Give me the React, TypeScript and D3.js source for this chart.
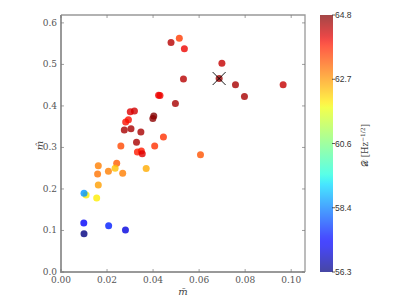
import React, { useEffect, useRef } from 'react';
import * as d3 from 'd3';

const mBar = [0.0478, 0.0514, 0.0536, 0.0532, 0.0424, 0.0430, 0.0497, 0.0301, 0.0319, 0.0293, 0.0281,
  0.0403, 0.0399, 0.0275, 0.0304, 0.0347, 0.0445, 0.0328, 0.0699, 0.0687, 0.0758, 0.0797, 0.0965,
  0.0260, 0.0407, 0.0332, 0.0349, 0.0353, 0.0162, 0.0242, 0.0159, 0.0206, 0.0235, 0.0268, 0.0370,
  0.0162, 0.0109, 0.0100, 0.0155, 0.0099, 0.0100, 0.0207, 0.0280, 0.0606];
const mHat = [0.5525, 0.563, 0.538, 0.465, 0.426, 0.425, 0.406, 0.386, 0.388, 0.367, 0.361,
  0.376, 0.370, 0.342, 0.345, 0.337, 0.325, 0.3125, 0.503, 0.466, 0.451, 0.423, 0.451,
  0.3036, 0.3036, 0.289, 0.2916, 0.285, 0.256, 0.262, 0.236, 0.2426, 0.250, 0.238, 0.249,
  0.2096, 0.1855, 0.1896, 0.178, 0.118, 0.0924, 0.1116, 0.101, 0.2827];
const dVal = [64.4, 63.5, 64.0, 64.4, 64.0, 64.0, 64.5, 64.1, 64.2, 63.9, 63.9,
  64.8, 64.7, 64.5, 64.5, 64.5, 63.6, 64.5, 64.3, 64.6, 64.5, 64.5, 64.3,
  63.4, 63.6, 63.8, 63.8, 64.1, 62.9, 63.2, 63.0, 62.9, 62.3, 62.9, 62.5,
  62.6, 61.9, 58.6, 61.9, 57.2, 56.3, 57.6, 57.0, 63.3];
const markedIndex = 19;

const xTicks = [0, 0.02, 0.04, 0.06, 0.08, 0.10];
const yTicks = [0, 0.1, 0.2, 0.3, 0.4, 0.5, 0.6];
const cTickLabels = ['56.3', '58.4', '60.6', '62.7', '64.8'];

// matplotlib jet
const jr = d3.scaleLinear().domain([0, 0.35, 0.66, 0.89, 1]).range([0, 0, 1, 1, 0.5]).clamp(true);
const jg = d3.scaleLinear().domain([0, 0.125, 0.375, 0.64, 0.91, 1]).range([0, 0, 1, 1, 0, 0]).clamp(true);
const jb = d3.scaleLinear().domain([0, 0.11, 0.34, 0.65, 1]).range([0.5, 1, 1, 0, 0]).clamp(true);
const jet = (t: number) => d3.rgb(jr(t) * 255, jg(t) * 255, jb(t) * 255).toString();

export default function App() {
  const ref = useRef<SVGSVGElement>(null);

  useEffect(() => {
    const svg = d3.select(ref.current);
    svg.selectAll('*').remove();

    const left = 61, right = 305, top = 15, bottom = 272;
    const x = d3.scaleLinear().domain([0, 0.106]).range([left, right]);
    const y = d3.scaleLinear().domain([0, 0.619]).range([bottom, top]);
    const dMin = 56.3, dMax = 64.8;
    const norm = d3.scaleLinear().domain([dMin, dMax]).range([0, 1]);
    const serif = '"DejaVu Serif", "Liberation Serif", serif';
    const sans = '"Liberation Sans", "DejaVu Sans", sans-serif';

    // points
    const g = svg.append('g');
    d3.range(mBar.length).forEach(i => {
      g.append('circle')
        .attr('cx', x(mBar[i]))
        .attr('cy', y(mHat[i]))
        .attr('r', 3.5)
        .attr('fill', jet(norm(dVal[i])))
        .attr('fill-opacity', 0.8);
    });

    // cross on the marked point
    const cx = x(mBar[markedIndex]), cy = y(mHat[markedIndex]);
    const s = 6.5;
    g.append('path')
      .attr('d', `M${cx - s},${cy - s}L${cx + s},${cy + s}M${cx - s},${cy + s}L${cx + s},${cy - s}`)
      .attr('stroke', '#000')
      .attr('stroke-width', 0.9);

    // frame
    svg.append('path').attr('d', `M${left},${top}H${right}V${bottom}`)
      .attr('fill', 'none').attr('stroke', '#999').attr('stroke-width', 1.3);
    svg.append('path').attr('d', `M${left},${top}V${bottom}H${right}`)
      .attr('fill', 'none').attr('stroke', '#999').attr('stroke-width', 2);

    // ticks inward, all four sides
    const tk = svg.append('g').attr('stroke', '#777').attr('stroke-width', 0.7);
    xTicks.forEach(t => {
      tk.append('line').attr('x1', x(t)).attr('x2', x(t)).attr('y1', bottom).attr('y2', bottom - 3);
      tk.append('line').attr('x1', x(t)).attr('x2', x(t)).attr('y1', top).attr('y2', top + 3);
    });
    yTicks.forEach(t => {
      tk.append('line').attr('x1', left).attr('x2', left + 3).attr('y1', y(t)).attr('y2', y(t));
      tk.append('line').attr('x1', right).attr('x2', right - 3).attr('y1', y(t)).attr('y2', y(t));
    });

    const lab = svg.append('g').attr('font-family', serif).attr('font-size', 9).attr('fill', '#555');
    xTicks.forEach(t => {
      lab.append('text').attr('x', x(t)).attr('y', bottom + 11)
        .attr('text-anchor', 'middle').text(d3.format('.2f')(t));
    });
    yTicks.forEach(t => {
      lab.append('text').attr('x', left - 4).attr('y', y(t) + 3)
        .attr('text-anchor', 'end').text(d3.format('.1f')(t));
    });

    svg.append('text').attr('x', (left + right) / 2).attr('y', 295)
      .attr('text-anchor', 'middle').attr('font-family', serif).attr('font-style', 'italic')
      .attr('font-size', 10).attr('fill', '#444').text('m\u0304');
    svg.append('text').attr('transform', `translate(43,${(top + bottom) / 2 + 2}) rotate(-90)`)
      .attr('text-anchor', 'middle').attr('font-family', serif).attr('font-style', 'italic')
      .attr('font-size', 10).attr('fill', '#444').text('m\u0302');

    // colorbar
    const cbX = 320, cbW = 13;
    const cy2 = d3.scaleLinear().domain([dMin, dMax]).range([bottom, top]);
    const defs = svg.append('defs');
    const grad = defs.append('linearGradient').attr('id', 'jetGrad')
      .attr('x1', '0%').attr('y1', '100%').attr('x2', '0%').attr('y2', '0%');
    d3.range(0, 1.0001, 0.02).forEach(t => {
      grad.append('stop').attr('offset', `${t * 100}%`).attr('stop-color', jet(t));
    });
    svg.append('rect').attr('x', cbX).attr('y', top).attr('width', cbW).attr('height', bottom - top)
      .attr('fill', 'url(#jetGrad)').attr('fill-opacity', 0.72);

    const cTicks = d3.range(cTickLabels.length).map(i => dMin + (dMax - dMin) * i / (cTickLabels.length - 1));
    cTicks.forEach((v, i) => {
      svg.append('line').attr('x1', cbX + cbW - 1).attr('x2', cbX + cbW + 2)
        .attr('y1', cy2(v)).attr('y2', cy2(v)).attr('stroke', '#333').attr('stroke-width', 0.8);
      svg.append('text').attr('x', cbX + cbW + 2).attr('y', cy2(v) + 3)
        .attr('font-family', sans).attr('font-size', 8.5).attr('fill', '#333')
        .text(cTickLabels[i]);
    });

    const cl = svg.append('text').attr('transform', `translate(368,${(top + bottom) / 2 + 2}) rotate(-90)`)
      .attr('text-anchor', 'middle').attr('font-family', serif).attr('font-size', 8.5).attr('fill', '#444');
    cl.append('tspan').text('\u{1D49F} [Hz');
    cl.append('tspan').attr('font-size', 6).attr('dy', -3).text('\u22121/2');
    cl.append('tspan').attr('dy', 3).text(']');
  }, []);

  return (
    <svg ref={ref} width={407} height={303}
      style={{ position: 'absolute', left: 0, top: 0, background: '#fff' }} />
  );
}
